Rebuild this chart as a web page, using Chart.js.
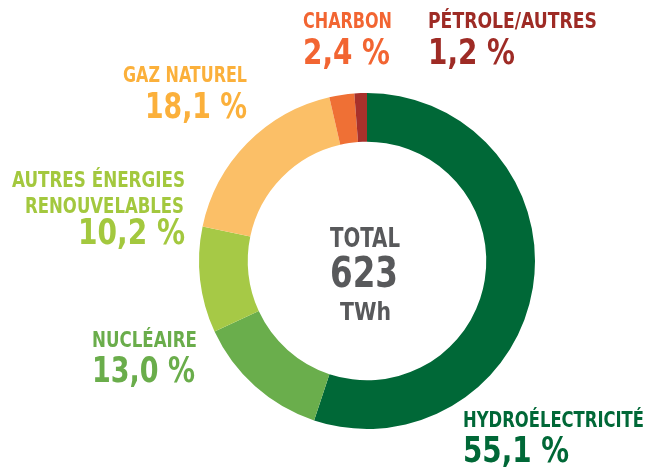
<!DOCTYPE html>
<html>
<head>
<meta charset="utf-8">
<script src="https://cdn.jsdelivr.net/npm/chart.js@4"></script>
<style>
  body{margin:0;background:#fff}
  #wrap{width:654px;height:469px}
</style>
</head>
<body>
<div id="wrap"><canvas id="grafico" width="654" height="469"></canvas></div>
<script>
const categories = ['HYDROÉLECTRICITÉ','NUCLÉAIRE','AUTRES ÉNERGIES RENOUVELABLES','GAZ NATUREL','CHARBON','PÉTROLE/AUTRES'];
const shares = [55.1, 13.0, 10.2, 18.1, 2.4, 1.2];
const sliceColors = ['#006837','#6aae4c','#a6c946','#fbbf67','#ef7035','#a8312b'];
const textColors = ['#006837','#6aad4b','#a3c83e','#fbb03b','#f26532','#9e2b25'];
const totalLines = ['TOTAL','623','TWh'];

// label layout: left x, name baselines, percent baseline, widths
const labelLayout = [
  {x:463, names:[[427,181]], pct:[462,106]},
  {x:92,  names:[[347,105]], pct:[382,103]},
  {x:12,  names:[[187,173],[213,159,25]], pct:[244,107,78]},
  {x:123, names:[[82,124]], pct:[118,102,145]},
  {x:303, names:[[28,89]], pct:[64,87]},
  {x:428, names:[[28,169]], pct:[64,87]}
];
const nameSplit = {2:['AUTRES ÉNERGIES','RENOUVELABLES']};
const FONT = '"Liberation Sans Narrow","DejaVu Sans Condensed","Liberation Sans",Arial,sans-serif';

function fitText(ctx,txt,x,y,w,size,color){
  ctx.font = 'bold '+size+'px '+FONT;
  ctx.fillStyle = color;
  ctx.textAlign = 'left';
  ctx.textBaseline = 'alphabetic';
  const m = ctx.measureText(txt).width;
  ctx.save();
  ctx.translate(x,y);
  ctx.scale(w/m,1);
  ctx.fillText(txt,0,0);
  ctx.restore();
}

const labelsPlugin = {
  id:'labels',
  afterDraw(chart){
    const ctx = chart.ctx;
    categories.forEach((c,i)=>{
      const L = labelLayout[i];
      const lines = nameSplit[i] || [c];
      lines.forEach((t,j)=>{
        const n = L.names[j];
        fitText(ctx,t,n[2]!==undefined?n[2]:L.x,n[0],n[1],22,textColors[i]);
      });
      const p = L.pct;
      const pct = shares[i].toFixed(1).replace('.',',')+' %';
      fitText(ctx,pct,p[2]!==undefined?p[2]:L.x,p[0],p[1],36,textColors[i]);
    });
    // centre
    fitText(ctx,totalLines[0],330,247,70,26,'#58595b');
    fitText(ctx,totalLines[1],330,287,68,42,'#58595b');
    fitText(ctx,totalLines[2],340,320,51,25,'#58595b');
  }
};

new Chart(grafico,{
  type:'doughnut',
  data:{
    labels:categories,
    datasets:[{data:shares,backgroundColor:sliceColors,borderWidth:0}]
  },
  options:{
    responsive:false,
    animation:false,
    cutout:'71%',
    layout:{padding:{top:93,bottom:40,left:199,right:119}},
    plugins:{legend:{display:false},tooltip:{enabled:false}}
  },
  plugins:[labelsPlugin]
});
</script>
</body>
</html>
